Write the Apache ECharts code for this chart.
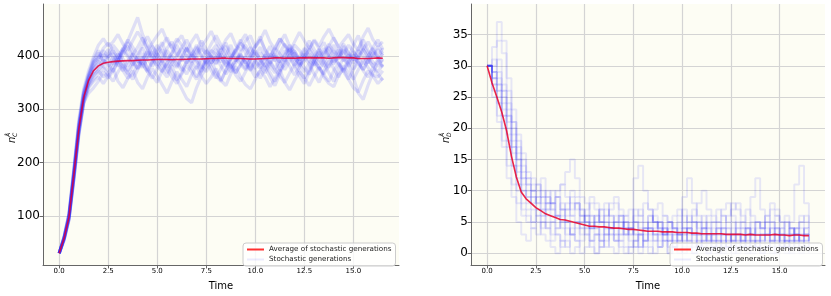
<!DOCTYPE html>
<html><head><meta charset="utf-8">
<script src="https://cdn.jsdelivr.net/npm/echarts@6/dist/echarts.min.js"></script>
<style>html,body{margin:0;padding:0;background:#fff}#c{width:831px;height:296px}</style>
</head><body><div id="c"></div>
<script>
// time points (step 0.25)
const timeTicks = [0, 2.5, 5, 7.5, 10, 12.5, 15];
const timeLabels = ['0.0','2.5','5.0','7.5','10.0','12.5','15.0'];
const leftYTicks = [100, 200, 300, 400];
const rightYTicks = [0, 5, 10, 15, 20, 25, 30, 35];
const T = [0,0.25,0.5,0.75,1,1.25,1.5,1.75,2,2.25,2.5,2.75,3,3.25,3.5,3.75,4,4.25,4.5,4.75,5,5.25,5.5,5.75,6,6.25,6.5,6.75,7,7.25,7.5,7.75,8,8.25,8.5,8.75,9,9.25,9.5,9.75,10,10.25,10.5,10.75,11,11.25,11.5,11.75,12,12.25,12.5,12.75,13,13.25,13.5,13.75,14,14.25,14.5,14.75,15,15.25,15.5,15.75,16,16.25,16.5];

// Left panel: n_C mean and stochastic paths
const meanC = [30,58,98,178,262,322,354,372,381,386,388,389,390,390.5,391,391,391.5,392,392,392.5,393,393,393,392.5,393,393,393.5,394,394,394,394.5,395,395,395.5,395.5,395,395,395,394.5,394,394,394.5,395,395.5,396,396,395.5,395.5,395.5,396,396,396.5,396,396,396,395.5,396,396.5,396.5,396,396,395,395,395,395.5,396,395.5];
const pathC1 = [30,60,102,185,270,330,362,390,405,398,412,395,380,402,418,396,388,405,372,390,410,425,400,385,378,396,415,402,388,370,392,408,420,398,380,395,412,430,405,390,376,388,401,418,395,372,385,402,410,392,378,365,390,412,425,401,388,396,410,392,375,398,420,405,388,380,395];
const pathC2 = [30,56,95,170,255,315,348,365,372,360,368,380,395,372,358,366,384,398,376,362,350,372,388,370,355,368,392,378,360,374,396,380,362,352,374,390,368,382,398,376,360,372,386,368,352,370,394,380,364,378,398,384,366,350,372,390,376,360,382,368,356,374,392,378,364,360,372];
const pathC3 = [30,62,105,190,280,338,372,398,420,432,418,426,440,422,410,428,445,430,412,424,438,450,428,415,432,420,408,426,440,418,430,446,425,412,430,442,420,410,428,438,415,430,448,426,412,432,420,408,426,444,428,414,430,418,436,450,432,416,428,440,422,410,436,452,430,418,426];
const pathC4 = [30,58,96,176,262,320,350,368,378,392,385,370,392,410,398,382,400,415,395,380,398,412,392,404,420,398,386,402,392,376,396,410,402,388,402,420,396,384,374,392,406,394,380,398,414,404,390,412,396,384,400,418,402,392,380,396,410,398,418,404,392,410,400,386,402,418,404];
const pathC5 = [30,54,92,168,250,310,340,352,360,348,362,376,352,340,358,372,350,338,360,376,362,346,330,352,370,356,342,364,380,362,348,360,376,354,344,366,380,360,346,338,356,372,360,342,358,374,350,336,354,370,358,344,362,378,360,348,342,364,376,356,340,332,354,372,362,348,358];
const pathC6 = [30,59,100,180,266,326,358,380,395,410,398,404,388,410,425,405,392,384,400,418,402,388,410,396,380,398,414,400,420,402,386,400,392,410,424,404,390,402,386,400,418,436,410,396,404,388,402,420,408,392,404,390,382,400,414,398,384,404,422,406,396,414,430,410,398,412,400];
const pathC7 = [30,57,97,174,258,318,352,374,390,380,372,390,404,386,372,388,376,394,410,392,380,370,386,400,392,378,366,384,398,382,370,386,398,380,366,378,392,404,386,372,390,380,368,384,400,388,374,390,406,384,370,386,400,412,390,378,396,384,370,388,402,386,374,392,380,370,384];
const pathC8 = [30,61,104,186,274,334,366,394,410,388,402,420,408,394,380,402,416,434,412,398,420,404,390,406,426,438,414,396,410,428,412,398,384,402,418,396,410,426,440,418,402,416,398,386,404,424,440,418,404,392,410,428,412,398,406,422,408,394,412,396,420,438,412,398,416,430,412];
const pathC9 = [30,55,94,172,256,312,330,340,352,370,358,372,390,410,428,450,472,440,420,404,388,372,360,382,356,338,320,312,340,362,378,392,370,354,372,396,412,390,376,394,410,392,378,360,344,366,388,402,380,362,348,370,392,408,386,368,352,376,398,384,360,330,318,345,368,390,378];
const pathC10 = [30,57,99,179,264,324,356,376,386,402,396,384,398,414,402,390,376,392,408,394,382,398,414,426,404,390,402,388,376,394,410,398,386,404,392,378,390,406,420,402,388,376,392,404,390,406,422,408,392,380,398,412,398,384,402,416,398,386,374,392,408,396,384,400,414,398,388];
const pathC11 = [30,59,101,182,268,328,360,384,400,392,380,398,384,372,390,404,392,378,394,408,396,382,368,386,400,414,400,388,404,418,400,386,400,414,396,382,368,384,400,416,398,384,402,390,376,392,410,396,382,398,414,400,386,374,390,404,420,404,390,402,386,398,412,396,380,392,404];
const pathC12 = [30,58,97,177,260,318,346,362,374,384,398,410,394,380,366,382,398,384,370,388,404,392,378,394,386,372,388,402,416,398,384,398,412,396,384,370,386,400,388,374,392,406,394,380,368,384,400,414,396,382,390,404,392,378,366,382,398,412,394,380,396,388,374,390,406,394,380];
const pathC13 = [30,60,103,184,271,331,364,388,396,414,424,410,396,414,430,416,402,420,436,418,404,420,434,414,400,416,430,412,398,414,404,422,438,420,406,392,408,424,414,400,418,430,412,398,416,432,418,404,420,410,396,412,428,414,400,418,434,416,402,420,408,394,412,426,410,398,414];
const pathC14 = [30,56,93,170,252,312,342,356,366,378,364,352,370,384,368,356,374,386,370,358,376,390,374,360,348,366,382,370,356,372,388,372,358,376,392,380,364,352,370,386,372,358,376,388,374,362,350,368,384,372,358,374,390,378,364,352,372,386,370,356,374,388,372,360,378,366,354];

// Right panel: n_D mean and stochastic paths
const meanD = [30,27.3,25,22.6,19.6,15.5,12.2,9.8,8.7,8.0,7.3,6.8,6.3,6.0,5.7,5.4,5.3,5.1,4.9,4.7,4.5,4.3,4.3,4.2,4.2,4.1,4.0,4.0,3.9,3.8,3.8,3.7,3.6,3.5,3.5,3.5,3.4,3.4,3.4,3.3,3.3,3.3,3.2,3.2,3.1,3.1,3.1,3.1,3.1,3.0,3.0,3.0,3.0,2.9,3.0,2.9,2.9,2.9,2.9,3.0,2.9,2.9,2.8,2.9,2.9,2.8,2.8];
const pathD1 = [30,28,31,27,22,18,14,11,9,10,8,7,9,8,6,7,5,6,8,7,5,4,6,5,3,4,5,6,4,3,5,4,2,3,4,5,3,2,4,3,2,3,5,4,2,3,1,2,4,3,2,1,3,2,4,3,2,3,5,4,3,2,1,3,2,3,2];
const pathD2 = [30,33,37,34,28,23,19,15,12,11,10,12,9,8,10,11,9,7,8,6,7,9,8,6,5,7,8,6,5,4,6,7,5,4,6,5,3,4,6,7,5,4,3,5,6,4,5,7,6,4,3,5,4,3,2,4,5,3,4,6,5,3,4,2,3,4,3];
const pathD3 = [30,26,22,18,14,11,8,6,5,4,3,5,4,2,3,1,2,0,1,2,3,1,0,2,1,3,2,1,0,1,2,3,1,0,2,1,3,2,1,0,1,2,0,1,3,2,1,0,2,1,0,1,2,1,0,2,3,1,0,1,2,1,0,2,1,3,2];
const pathD4 = [30,29,27,25,23,21,18,16,13,12,11,9,10,8,9,7,8,10,9,7,6,8,7,5,6,8,9,7,6,5,7,6,4,5,7,8,6,5,4,6,7,5,6,8,10,7,6,5,7,8,6,4,5,7,6,5,4,6,8,7,5,6,4,3,5,6,5];
const pathD5 = [30,27,25,22,19,16,12,10,9,7,6,5,7,6,4,5,3,4,5,3,4,2,3,5,4,3,2,4,3,1,2,3,4,2,3,5,4,3,2,3,4,2,3,1,2,4,3,2,1,3,2,4,3,2,1,2,3,4,2,3,1,2,3,2,4,3,2];
const pathD6 = [30,28,26,24,21,17,13,10,8,9,7,6,8,7,9,11,13,15,12,9,8,6,5,7,6,4,5,6,4,3,12,14,10,7,5,4,3,5,4,3,9,12,8,5,4,3,2,3,4,2,3,2,4,3,9,12,7,5,3,4,2,3,5,11,14,8,4];
const pathD7 = [30,29,28,26,24,20,16,12,10,8,9,7,6,5,6,4,5,3,4,5,6,4,3,2,4,5,3,2,3,4,2,1,3,4,2,3,2,1,2,3,4,2,1,2,3,2,4,3,2,1,3,2,1,3,2,1,2,3,1,2,3,1,2,4,3,2,1];
const pathD8 = [30,31,29,26,22,19,15,13,11,10,9,8,7,8,6,5,7,6,5,4,5,6,4,3,5,4,6,5,3,4,5,3,4,6,5,4,3,5,4,2,3,4,5,3,4,6,5,4,3,4,5,3,2,4,3,5,4,3,2,4,3,5,4,3,2,4,3];
const pathD9 = [30,25,21,17,12,9,5,3,2,4,5,3,2,1,0,2,1,3,2,0,1,2,0,1,3,1,0,2,1,0,1,0,2,1,0,1,2,0,1,2,0,1,0,2,1,0,1,2,0,1,2,0,1,0,2,1,0,1,2,0,1,0,2,1,0,1,0];
const pathD10 = [30,30,34,32,26,21,17,14,12,10,11,9,8,10,9,7,6,8,7,5,6,4,5,7,8,6,5,4,6,7,5,6,8,7,5,4,6,5,3,4,6,5,7,6,4,5,3,4,6,5,7,8,6,4,5,3,4,5,7,6,4,5,3,4,6,5,4];
const pathD11 = [30,27,24,20,17,14,10,8,7,5,6,4,5,3,4,6,5,3,2,4,3,5,4,2,3,4,2,3,5,4,3,1,2,4,3,2,4,3,1,2,3,4,2,3,5,3,2,4,3,1,2,3,2,4,3,1,3,2,4,2,3,1,2,3,2,1,3];
const pathD12 = [30,28,27,23,20,17,15,12,11,9,8,10,8,7,6,8,7,9,8,6,5,4,6,5,7,6,4,3,5,4,3,5,4,6,5,3,4,2,3,5,4,6,5,3,4,2,3,5,4,6,8,7,5,4,3,5,4,6,5,3,4,2,3,4,5,3,3];
const pathD13 = [30,29,26,22,18,14,11,7,6,5,7,6,4,5,3,2,4,3,5,6,4,2,3,1,2,4,3,5,4,2,1,3,2,4,3,1,2,0,1,3,2,4,3,1,2,0,2,1,3,2,4,3,2,1,3,2,0,1,2,3,1,2,4,3,1,2,2];

const pathsC = [pathC1,pathC2,pathC3,pathC4,pathC5,pathC6,pathC7,pathC8,pathC9,pathC10,pathC11,pathC12,pathC13,pathC14];
const pathsD = [pathD1,pathD2,pathD3,pathD4,pathD5,pathD6,pathD7,pathD8,pathD9,pathD10,pathD11,pathD12,pathD13];
const NAME_AVG = 'Average of stochastic generations';
const NAME_STO = 'Stochastic generations';

const pair = arr => arr.map((v, i) => [T[i], v]);
const FONT = 'DejaVu Sans';

const series = [];
pathsC.forEach(p => series.push({type:'line', name:NAME_STO, xAxisIndex:0, yAxisIndex:0, data:pair(p), symbol:'none', silent:true, z:2,
  lineStyle:{color:'#1a1aff', width:3.2, opacity:0.13}, itemStyle:{color:'#0000ff', opacity:0.13}}));
series.push({type:'line', name:NAME_AVG, xAxisIndex:0, yAxisIndex:0, data:pair(meanC), symbol:'none', silent:true, z:5,
  lineStyle:{color:'#e0003a', width:1.6, opacity:0.85}, itemStyle:{color:'#ff0000'}});
pathsD.forEach(p => series.push({type:'line', name:NAME_STO, xAxisIndex:1, yAxisIndex:1, data:pair(p), step:'end', symbol:'none', silent:true, z:2,
  lineStyle:{color:'#0000ff', width:2, opacity:0.09}, itemStyle:{color:'#0000ff', opacity:0.09}}));
series.push({type:'line', name:NAME_AVG, xAxisIndex:1, yAxisIndex:1, data:pair(meanD), symbol:'none', silent:true, z:5,
  lineStyle:{color:'#e8002a', width:1.6, opacity:0.85}, itemStyle:{color:'#ff0000'}});

function xAxis(gi) {
  return {type:'value', gridIndex:gi, min:-0.825, max:17.325,
    name:'Time', nameLocation:'middle', nameGap:16, nameTextStyle:{fontFamily:FONT, fontSize:10, color:'#000'},
    axisLine:{show:true, onZero:false, lineStyle:{color:'#666', width:1}},
    axisTick:{show:true, length:3.5, lineStyle:{color:'#666'}, customValues:timeTicks},
    axisLabel:{fontFamily:FONT, fontSize:7, color:'#000', margin:3, customValues:timeTicks,
      formatter: v => { const i = timeTicks.indexOf(v); return i >= 0 ? timeLabels[i] : ''; }},
    splitLine:{show:true, lineStyle:{color:'#d4d4d4', width:1.2}}};
}
function yAxis(gi, min, max, ticks) {
  return {type:'value', gridIndex:gi, min:min, max:max,
    axisLine:{show:true, onZero:false, lineStyle:{color:'#666', width:1}},
    axisTick:{show:true, length:3.5, lineStyle:{color:'#666'}, customValues:ticks},
    axisLabel:{fontFamily:FONT, fontSize:12, color:'#000', margin:3, customValues:ticks},
    splitLine:{show:true, lineStyle:{color:'#d4d4d4', width:1.2}}};
}

function yLabel(cx, cy, sub) {
  return {type:'group', x:cx, y:cy, rotation:Math.PI/2, silent:true, children:[
    {type:'text', x:-6, y:0, style:{text:'n', font:'italic 10px "DejaVu Sans"', fill:'#000', textVerticalAlign:'middle'}},
    {type:'text', x:0, y:-3.5, style:{text:'Å', font:'italic 6px "DejaVu Sans"', fill:'#000', textVerticalAlign:'middle'}},
    {type:'text', x:0, y:3.5, style:{text:sub, font:'italic 6px "DejaVu Sans"', fill:'#000', textVerticalAlign:'middle'}}
  ]};
}

function legend(left, top) {
  return {left:left, top:top, orient:'vertical', itemGap:3, itemWidth:17, itemHeight:2,
    padding:[3,4,3,4], backgroundColor:'rgba(255,255,255,0.8)', borderColor:'#cccccc', borderWidth:1, borderRadius:3,
    textStyle:{fontFamily:FONT, fontSize:7.2, color:'#222'},
    data:[{name:NAME_AVG, icon:'rect', itemStyle:{color:'#ff3030', opacity:1}},
          {name:NAME_STO, icon:'rect', itemStyle:{color:'rgba(0,0,255,0.08)', opacity:1}}]};
}

const chart = echarts.init(document.getElementById('c'), null, {renderer:'canvas'});
chart.setOption({
  animation:false,
  backgroundColor:'#ffffff',
  grid:[
    {left:43, right:432, top:4, bottom:26, show:true, backgroundColor:'#fdfdf4', borderWidth:0},
    {left:471, right:6, top:4, bottom:26, show:true, backgroundColor:'#fdfdf4', borderWidth:0}
  ],
  xAxis:[xAxis(0), xAxis(1)],
  yAxis:[yAxis(0, 8, 497, leftYTicks), yAxis(1, -1.9, 39.9, rightYTicks)],
  legend:[legend(243, 243), legend(670, 243)],
  graphic:[yLabel(12, 137, 'C'), yLabel(446, 137, 'D')],
  series:series
});
</script></body></html>
